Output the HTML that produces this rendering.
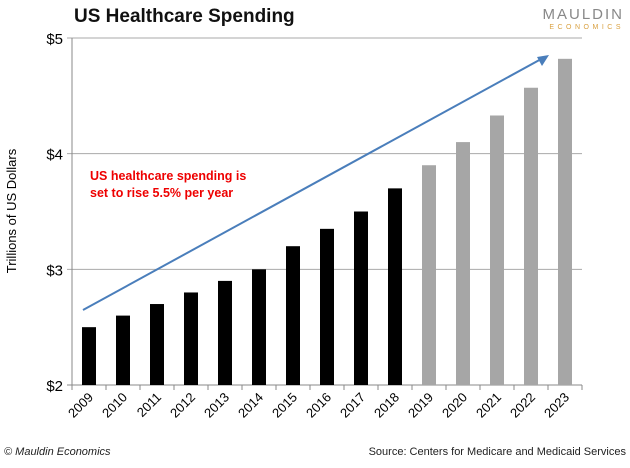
<!DOCTYPE html>
<html><head><meta charset="utf-8"><style>
body{margin:0;background:#fff;width:630px;height:463px;overflow:hidden;font-family:"Liberation Sans",sans-serif}
</style></head><body>
<svg width="630" height="463" xmlns="http://www.w3.org/2000/svg">
<text x="74" y="22" font-size="19" font-weight="bold" fill="#111">US Healthcare Spending</text>
<text x="624" y="19" text-anchor="end" font-size="15" fill="#888" letter-spacing="2">MAULDIN</text>
<text x="624" y="29" text-anchor="end" font-size="7" fill="#d9a040" letter-spacing="3.5">ECONOMICS</text>
<text x="16" y="211" transform="rotate(-90 16 211)" text-anchor="middle" font-size="13" fill="#000">Trillions of US Dollars</text>
<g id="grid"></g><g id="bars"></g><g id="xl"></g>
<line x1="83" y1="310" x2="543" y2="58" stroke="#4a7ebb" stroke-width="2"/>
<polygon points="549,55 537,57 542,66" fill="#4a7ebb"/>
<text x="90" y="180" font-size="12.5" font-weight="bold" fill="#e00">US healthcare spending is</text>
<text x="90" y="197" font-size="12.5" font-weight="bold" fill="#e00">set to rise 5.5% per year</text>
<text x="4" y="455" font-size="11" font-style="italic" fill="#222">© Mauldin Economics</text>
<text x="626" y="455" text-anchor="end" font-size="11" fill="#222">Source: Centers for Medicare and Medicaid Services</text>
</svg>
<script>
const years=["2009","2010","2011","2012","2013","2014","2015","2016","2017","2018","2019","2020","2021","2022","2023"];
const values=[2.5,2.6,2.7,2.8,2.9,3.0,3.2,3.35,3.5,3.7,3.9,4.1,4.33,4.57,4.82];
const projected=[0,0,0,0,0,0,0,0,0,0,1,1,1,1,1];
const yTicks=[2,3,4,5];
const NS="http://www.w3.org/2000/svg";
const L=72,R=582,T=38,B=385;
const y=v=>B-(v-2)/(5-2)*(B-T);
const cw=(R-L)/years.length;
const x=i=>L+cw*(i+0.5);
function mk(tag,at,p){const e=document.createElementNS(NS,tag);for(const k in at)e.setAttribute(k,at[k]);document.getElementById(p).appendChild(e);return e;}
yTicks.forEach(t=>{
  const l=mk('line',{x1:L-5,x2:R,y1:y(t),y2:y(t),stroke:t===2?'#888':'#aaa','stroke-width':1},'grid');
  
  
  const tx=mk('text',{x:L-9,y:y(t)+6,'text-anchor':'end','font-size':15,fill:'#000'},'grid');
  tx.textContent='$'+t;
  
  
});
const ax=mk('line',{x1:L,x2:L,y1:T,y2:B,stroke:'#888'},'grid');


for(let i=0;i<=years.length;i++){
  const tk=mk('line',{x1:L+cw*i,x2:L+cw*i,y1:B,y2:B+5,stroke:'#888'},'grid');
  
  
}
years.forEach((yr,i)=>{
  const b=mk('rect',{x:x(i)-7,y:y(values[i]),width:14,height:B-y(values[i]),fill:projected[i]?'#a6a6a6':'#000'},'bars');
  
  
  const t=mk('text',{x:x(i)+5,y:B+13,'text-anchor':'end','font-size':13,fill:'#000',transform:`rotate(-45 ${x(i)+5} ${B+13})`},'xl');
  t.textContent=yr;
  
  
});
</script>
</body></html>
